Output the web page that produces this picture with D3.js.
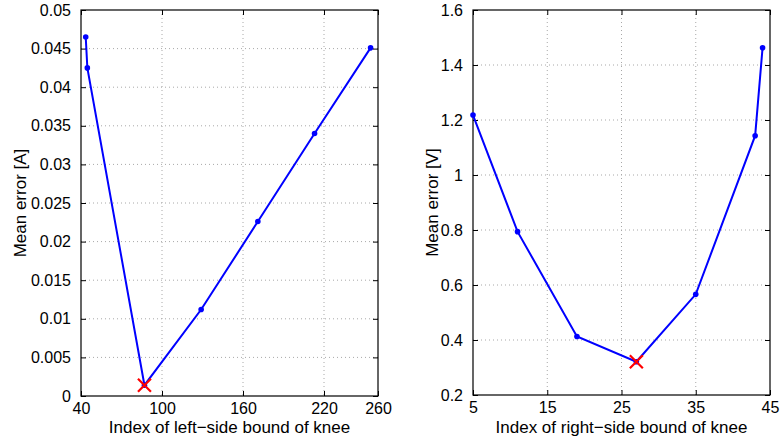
<!DOCTYPE html>
<html><head><meta charset="utf-8">
<script src="https://cdn.jsdelivr.net/npm/d3@7"></script>
<style>
body{margin:0;background:#fff;}
svg{display:block;font-family:"Liberation Sans",Arial,Helvetica,sans-serif;}
</style></head>
<body><svg id="c" width="782" height="438"></svg>
<script>
// Left panel data
const leftX = [43.5, 44.7, 87, 129, 171, 213, 254.5];
const leftY = [0.0465, 0.0425, 0.0014, 0.0112, 0.0226, 0.0340, 0.0451];
const leftMin = {x: 87, y: 0.0014};
const leftXTicks = [40, 100, 160, 220, 260];
const leftYTicks = [0, 0.005, 0.01, 0.015, 0.02, 0.025, 0.03, 0.035, 0.04, 0.045, 0.05];
const leftXLabel = "Index of left\u2212side bound of knee";
const leftYLabel = "Mean error [A]";

// Right panel data
const rightX = [5, 11, 19, 27, 35, 43, 44];
const rightY = [1.218, 0.794, 0.413, 0.321, 0.566, 1.143, 1.463];
const rightMin = {x: 27, y: 0.321};
const rightXTicks = [5, 15, 25, 35, 45];
const rightYTicks = [0.2, 0.4, 0.6, 0.8, 1, 1.2, 1.4, 1.6];
const rightXLabel = "Index of right\u2212side bound of knee";
const rightYLabel = "Mean error [V]";

const svg = d3.select("#c");

function panel(cfg) {
  const {x0, x1, y0, y1, xDom, yDom, xs, ys, min, xTicks, yTicks, xLabel, yLabel, yLabelX} = cfg;
  const x = d3.scaleLinear().domain(xDom).range([x0, x1]);
  const y = d3.scaleLinear().domain(yDom).range([y1, y0]);
  const g = svg.append("g");
  // grid
  g.selectAll(".gx").data(xTicks.filter(t => t !== xDom[0] && t !== xDom[1])).enter()
    .append("line").attr("x1", d => x(d)).attr("x2", d => x(d)).attr("y1", y0).attr("y2", y1)
    .attr("stroke", "#a8a8a8").attr("stroke-width", 1).attr("stroke-dasharray", "1,3");
  g.selectAll(".gy").data(yTicks.filter(t => t !== yDom[0] && t !== yDom[1])).enter()
    .append("line").attr("y1", d => y(d)).attr("y2", d => y(d)).attr("x1", x0).attr("x2", x1)
    .attr("stroke", "#a8a8a8").attr("stroke-width", 1).attr("stroke-dasharray", "1,3");
  // axes (ticks inward)
  const fmt = d => String(+d.toFixed(4));
  const ax = [
    g.append("g").attr("transform", `translate(0,${y1})`).call(d3.axisBottom(x).tickValues(xTicks).tickSizeInner(-5).tickSizeOuter(0).tickPadding(8).tickFormat(fmt)),
    g.append("g").attr("transform", `translate(0,${y0})`).call(d3.axisTop(x).tickValues(xTicks).tickSizeInner(-5).tickSizeOuter(0).tickFormat("")),
    g.append("g").attr("transform", `translate(${x0},0)`).call(d3.axisLeft(y).tickValues(yTicks).tickSizeInner(-5).tickSizeOuter(0).tickPadding(10).tickFormat(fmt)),
    g.append("g").attr("transform", `translate(${x1},0)`).call(d3.axisRight(y).tickValues(yTicks).tickSizeInner(-5).tickSizeOuter(0).tickFormat(""))
  ];
  ax.forEach(a => {
    a.select(".domain").remove();
    a.selectAll("line").attr("stroke", "#000");
    a.selectAll("text").attr("font-size", 16).attr("fill", "#000").attr("font-family", "Liberation Sans, Arial, sans-serif");
  });
  ax[0].selectAll("text").attr("dy", "0.71em").attr("y", 7);
  // box
  g.append("rect").attr("x", x0).attr("y", y0).attr("width", x1 - x0).attr("height", y1 - y0)
    .attr("fill", "none").attr("stroke", "#000").attr("stroke-width", 1.2);
  // line
  const pts = xs.map((v, i) => [v, ys[i]]);
  g.append("path").datum(pts)
    .attr("d", d3.line().x(d => x(d[0])).y(d => y(d[1])))
    .attr("fill", "none").attr("stroke", "#0000ff").attr("stroke-width", 2);
  g.selectAll(".pt").data(pts).enter().append("circle")
    .attr("cx", d => x(d[0])).attr("cy", d => y(d[1])).attr("r", 2.8).attr("fill", "#0000ff");
  // min marker
  const s = 6.5, mx = x(min.x), my = y(min.y);
  g.append("path").attr("d", `M${mx - s},${my - s}L${mx + s},${my + s}M${mx - s},${my + s}L${mx + s},${my - s}`)
    .attr("stroke", "#ff0000").attr("stroke-width", 2.2).attr("fill", "none");
  // labels
  g.append("text").attr("x", (x0 + x1) / 2).attr("y", 433).attr("text-anchor", "middle")
    .attr("font-size", 17).text(xLabel);
  g.append("text").attr("transform", `translate(${yLabelX},${(y0 + y1) / 2}) rotate(-90)`)
    .attr("text-anchor", "middle").attr("font-size", 17).text(yLabel);
}

panel({x0: 81, x1: 378, y0: 10, y1: 396, xDom: [40, 260], yDom: [0, 0.05],
  xs: leftX, ys: leftY, min: leftMin, xTicks: leftXTicks, yTicks: leftYTicks,
  xLabel: leftXLabel, yLabel: leftYLabel, yLabelX: 26});
panel({x0: 473, x1: 770, y0: 10, y1: 395, xDom: [5, 45], yDom: [0.2, 1.6],
  xs: rightX, ys: rightY, min: rightMin, xTicks: rightXTicks, yTicks: rightYTicks,
  xLabel: rightXLabel, yLabel: rightYLabel, yLabelX: 438});
</script></body></html>
